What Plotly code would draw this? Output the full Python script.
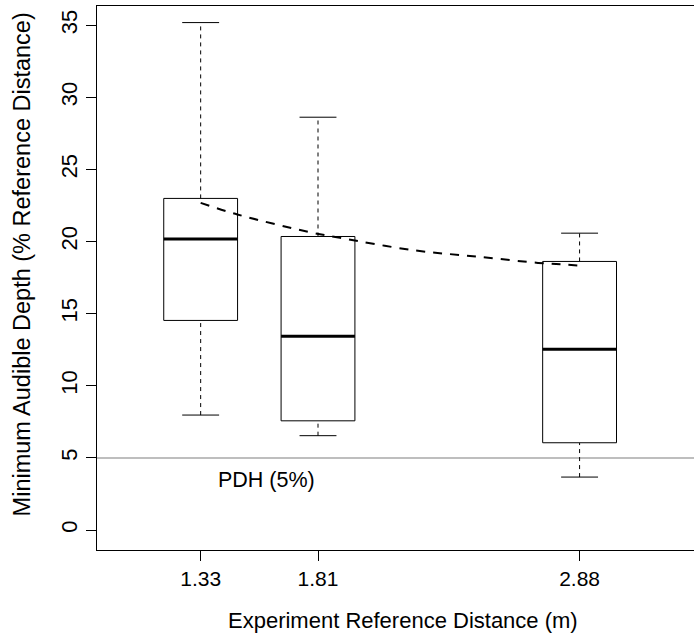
import plotly.graph_objects as go

# ---- data ----
distances = [1.33, 1.81, 2.88]
tick_labels = ["1.33", "1.81", "2.88"]
lower_whisker = [7.97, 6.54, 3.67]
q1 = [14.53, 7.57, 6.05]
median = [20.17, 13.44, 12.54]
q3 = [22.99, 20.35, 18.62]
upper_whisker = [35.18, 28.62, 20.58]

fit_x = [1.33, 1.48, 1.77, 1.90, 2.20, 2.47, 2.71, 2.83, 2.88]
fit_y = [22.68, 21.88, 20.67, 20.26, 19.40, 18.94, 18.52, 18.39, 18.33]

pdh_level = 5
pdh_label = "PDH (5%)"
pdh_label_x = 1.6
pdh_label_y = 3.5

y_ticks = [0, 5, 10, 15, 20, 25, 30, 35]

x_title = "Experiment Reference Distance (m)"
y_title = "Minimum Audible Depth (% Reference Distance)"

BOX_HALF = 0.151
CAP_HALF = 0.0755
FONT = "Liberation Sans, Arial, Helvetica, sans-serif"

fig = go.Figure()

# whiskers (dashed)
wx, wy = [], []
for x, lo, a, b, hi in zip(distances, lower_whisker, q1, q3, upper_whisker):
    wx += [x, x, None, x, x, None]
    wy += [lo, a, None, b, hi, None]
fig.add_trace(go.Scatter(x=wx, y=wy, mode="lines",
                         line=dict(color="black", width=1, dash="4px,4px"),
                         hoverinfo="skip", showlegend=False))
# caps
cx, cy = [], []
for x, lo, hi in zip(distances, lower_whisker, upper_whisker):
    cx += [x - CAP_HALF, x + CAP_HALF, None, x - CAP_HALF, x + CAP_HALF, None]
    cy += [lo, lo, None, hi, hi, None]
fig.add_trace(go.Scatter(x=cx, y=cy, mode="lines",
                         line=dict(color="black", width=1),
                         hoverinfo="skip", showlegend=False))
# boxes
for x, a, b in zip(distances, q1, q3):
    fig.add_trace(go.Scatter(
        x=[x - BOX_HALF, x + BOX_HALF, x + BOX_HALF, x - BOX_HALF, x - BOX_HALF],
        y=[a, a, b, b, a], mode="lines", fill="toself", fillcolor="white",
        line=dict(color="black", width=1), hoverinfo="skip", showlegend=False))
# medians
mx, my = [], []
for x, m in zip(distances, median):
    mx += [x - BOX_HALF, x + BOX_HALF, None]
    my += [m, m, None]
fig.add_trace(go.Scatter(x=mx, y=my, mode="lines",
                         line=dict(color="black", width=3),
                         hoverinfo="skip", showlegend=False))
# fitted curve
fig.add_trace(go.Scatter(x=fit_x, y=fit_y, mode="lines",
                         line=dict(color="black", width=2, dash="9px,8px", shape="spline"),
                         hoverinfo="skip", showlegend=False))

fig.add_hline(y=pdh_level, line=dict(color="#bebebe", width=2), layer="below")
fig.add_annotation(x=pdh_label_x, y=pdh_label_y, text=pdh_label, showarrow=False,
                   font=dict(family=FONT, size=21.5, color="black"),
                   xanchor="center", yanchor="middle")

# axis titles
fig.add_annotation(xref="paper", yref="paper", x=0.5126, y=-0.1305, text=x_title,
                   showarrow=False, xanchor="center", yanchor="middle",
                   font=dict(family=FONT, size=22, color="black"))
fig.add_annotation(xref="paper", yref="paper", x=-0.1256, y=0.525, text=y_title,
                   showarrow=False, xanchor="center", yanchor="middle", textangle=-90,
                   font=dict(family=FONT, size=23.5, color="black"))

fig.update_layout(
    width=694, height=639,
    margin=dict(l=97, r=0, t=6, b=89),
    paper_bgcolor="white", plot_bgcolor="white",
    font=dict(family=FONT, size=21, color="black"),
    xaxis=dict(range=[0.906, 3.348], tickvals=distances, ticktext=tick_labels,
               ticks="outside", ticklen=10, tickcolor="black", tickwidth=1,
               tickfont=dict(size=21),
               showline=True, mirror=True, linecolor="black", linewidth=1,
               showgrid=False, zeroline=False),
    yaxis=dict(range=[-1.386, 36.33], tickvals=y_ticks,
               ticks="outside", ticklen=10, tickcolor="black", tickwidth=1,
               tickangle=-90, tickfont=dict(size=22),
               showline=True, linecolor="black", linewidth=1,
               showgrid=False, zeroline=False),
)

fig.write_html("out.html")
